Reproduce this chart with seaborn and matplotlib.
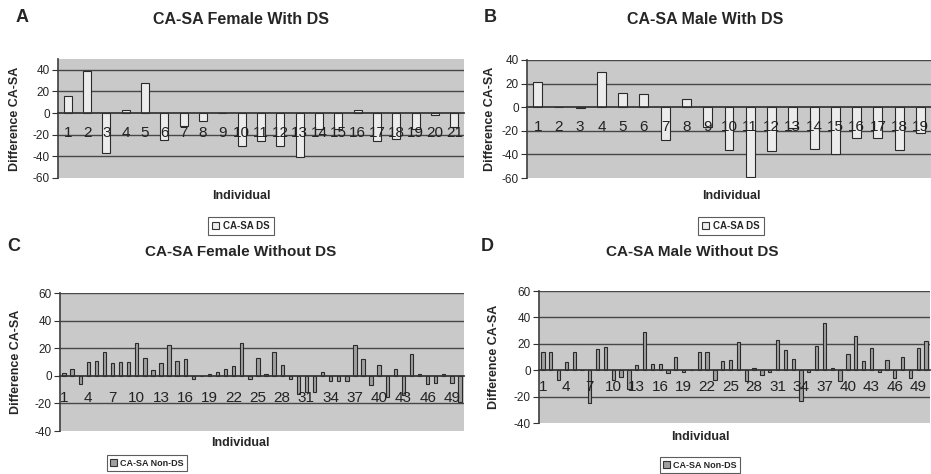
import matplotlib
matplotlib.use("Agg")
import matplotlib.pyplot as plt
import seaborn as sns
import pandas as pd
from matplotlib.patches import Patch

# ---------------- data ----------------
female_ds = [16, 39, -37, 3, 28, -25, -12, -7, 0, -30, -26, -30, -41, -15, -15, 3, -26, -24, -15, -2, -13]
male_ds = [21, 0, -1, 30, 12, 11, -28, 7, -17, -36, -59, -37, -18, -35, -40, -26, -26, -36, -22]
female_nonds = [2, 5, -6, 10, 11, 17, 9, 10, 10, 24, 13, 4, 9, 22, 11, 12, -2, 0, 1.5, 3,
                5, 7, 24, -2, 13, 1.5, 17, 7.5, -2, -13, -12, -12, 3, -4, -4, -4, 22, 12, -7, 7.5,
                -15, 5, -14, 16, 1.5, -6, -5.5, 1.5, -5.5, -19]
male_nonds = [14, 14, -7.5, 6, 14, 0, -25, 16, 17.5, -7.5, -5, -14, 4, 29, 5, 5, -2, 10, -1, 0,
              14, 14, -7.5, 7, 8, 21, -8, 1.5, -4, -1, 23, 15, 8.5, -23, -1, 18, 36, 1.5, -8, 12,
              26, 7, 17, -1, 8, -6, 10, -6, 17, 22]

titles = ["CA-SA Female With DS", "CA-SA Male With DS", "CA-SA Female Without DS", "CA-SA Male Without DS"]
letters = ["A", "B", "C", "D"]
legend_labels = ["CA-SA DS", "CA-SA DS", "CA-SA Non-DS", "CA-SA Non-DS"]
ylims = [(-60, 50), (-60, 40), (-40, 60), (-40, 60)]
yticks_list = [list(range(-60, 41, 20)), list(range(-60, 41, 20)), list(range(-40, 61, 20)), list(range(-40, 61, 20))]
label_steps = [1, 1, 3, 3]
series = [female_ds, male_ds, female_nonds, male_nonds]

W, H = 931, 474
sns.set_theme(style="white")
plt.rcParams['font.family'] = ['Liberation Sans', 'DejaVu Sans']

fig = plt.figure(figsize=(W / 100, H / 100), dpi=100)

def fx(px):
    return px / W

def fy(py):
    return 1 - py / H

# axes rectangles in pixels: left, top, right, bottom
rects = [(58, 59, 464, 178), (527, 60, 931, 178), (60, 293, 464, 431), (539, 291, 930, 423)]
fills = ["#ececec", "#ececec", "#a0a0a0", "#a0a0a0"]
bg = "#c9c9c9"
grid_c = "#474747"
ylab_x = [15, 490, 16, 494]
title_pos = [(241, 20), (705, 20), (241, 252), (692, 252)]
title_size = [11.5, 11.5, 11, 11]
letter_pos = [(22, 18), (490, 18), (14, 247), (487, 247)]
xlab_pos = [(241, 196), (731, 196), (240, 443), (700, 437)]
leg_pos = [(241, 226), (731, 226), (147, 463), (700, 465)]
leg_size = [7, 7, 6.5, 6.5]
xt_pad = [9, 9, 11, 7]
xt_size = [9.5, 9.5, 9, 9]

for i in range(4):
    l, t, r, b = rects[i]
    ax = fig.add_axes([fx(l), fy(b), (r - l) / W, (b - t) / H])
    vals = series[i]
    n = len(vals)
    df = pd.DataFrame({"Individual": list(range(1, n + 1)), "Difference": vals})
    for yv in yticks_list[i]:
        if yv != 0 and yv != ylims[i][0]:
            ax.axhline(yv, color=grid_c, linewidth=1, zorder=0.5)
    sns.barplot(data=df, x="Individual", y="Difference", ax=ax, color=fills[i],
                saturation=1, edgecolor="#2a2a2a", linewidth=0.8, width=0.42, zorder=1)
    ax.set_facecolor(bg)
    ax.set_xlim(-0.5, n - 0.5)
    ax.set_ylim(*ylims[i])
    ax.set_yticks(yticks_list[i])
    ax.set_yticklabels([str(v) for v in yticks_list[i]], fontsize=8.5)
    ax.grid(False)
    ax.set_axisbelow(False)
    step = label_steps[i]
    ax.set_xticks(range(n))
    ax.set_xticklabels([str(k + 1) if k % step == 0 else "" for k in range(n)], fontsize=xt_size[i])
    ax.set_xticks([k + 0.5 for k in range(-1, n)], minor=True)
    ax.tick_params(axis="x", which="major", length=0, pad=xt_pad[i], colors="#222222")
    ax.tick_params(axis="x", which="minor", length=5, direction="inout", width=0.8, color="#333333")
    ax.tick_params(axis="y", which="major", length=4, width=0.8, direction="out", color="#333333", pad=2, left=True)
    ax.spines["bottom"].set_position(("data", 0))
    ax.spines["bottom"].set_color("#333333")
    ax.spines["left"].set_color("#444444")
    ax.spines["top"].set_visible(False)
    ax.spines["right"].set_visible(False)
    ax.set_xlabel("")
    ax.set_ylabel("")
    fig.text(fx(ylab_x[i]), fy((t + b) / 2), "Difference CA-SA", rotation=90, fontsize=9,
             fontweight="bold", ha="center", va="center")
    fig.text(fx(title_pos[i][0]), fy(title_pos[i][1]), titles[i], fontsize=title_size[i], fontweight="bold",
             ha="center", va="center")
    fig.text(fx(letter_pos[i][0]), fy(letter_pos[i][1]), letters[i], fontsize=13, fontweight="bold",
             ha="center", va="center")
    fig.text(fx(xlab_pos[i][0]), fy(xlab_pos[i][1]), "Individual", fontsize=9, fontweight="bold",
             ha="center", va="center")
    h = Patch(facecolor=fills[i], edgecolor="#333333", linewidth=0.8, label=legend_labels[i])
    leg = fig.legend(handles=[h], loc="center", bbox_to_anchor=(fx(leg_pos[i][0]), fy(leg_pos[i][1])),
                     prop={"weight": "bold", "size": leg_size[i]}, frameon=True, fancybox=False,
                     handlelength=0.7, handleheight=0.7, handletextpad=0.4, borderpad=0.4,
                     borderaxespad=0)
    leg.get_frame().set_edgecolor("#333333")
    leg.get_frame().set_linewidth(0.8)

fig.savefig("out.png", dpi=100, facecolor="white")
